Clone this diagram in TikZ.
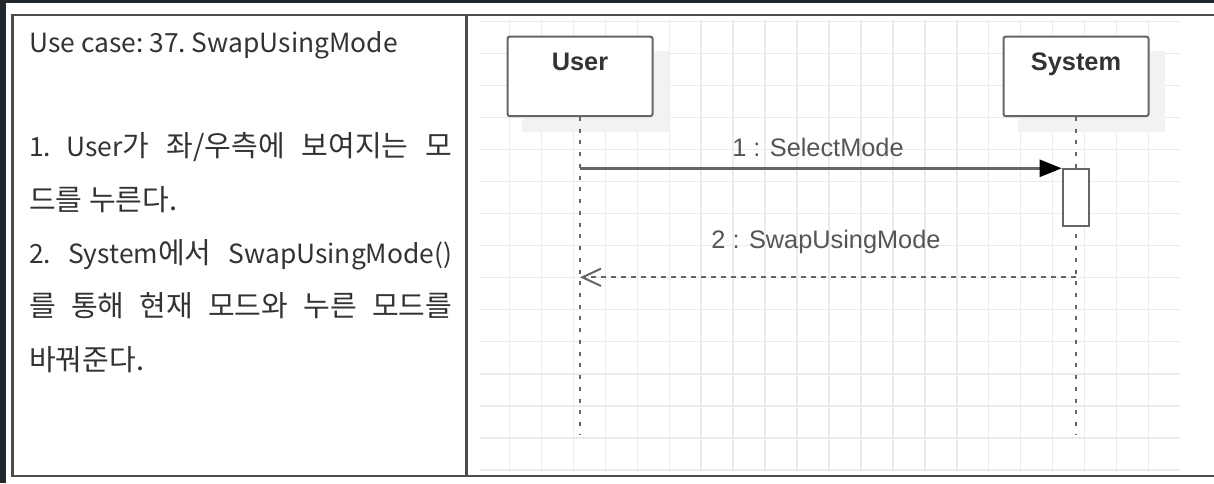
\documentclass[tikz,border=0pt]{standalone}
\usepackage{fontspec}
\newfontfamily\korfont{Noto Sans CJK KR}
\newfontfamily\hangulfont{Noto Sans CJK KR}[Scale=1.1]
\newfontfamily\umlfont{Liberation Sans}
\usetikzlibrary{arrows.meta}
\pgfdeclarelayer{background}
\pgfsetlayers{background,main}
\definecolor{pagedark}{HTML}{22272B}
\definecolor{rulecol}{HTML}{4D4D4D}
\definecolor{ink}{HTML}{333333}
\definecolor{umlgray}{HTML}{666666}
\definecolor{msgink}{HTML}{555555}
\definecolor{gridcol}{HTML}{EBEBEB}
\definecolor{shadowcol}{HTML}{F2F2F2}
\newcommand\hg[1]{{\hangulfont #1}}

\begin{document}
\begin{tikzpicture}[x=0.75pt,y=-0.75pt,
  casetext/.style={font=\korfont\frenchspacing\fontsize{19.8pt}{22pt}\selectfont, text=ink, anchor=base west, inner sep=0pt},
  lifebox/.style={draw=umlgray, line width=1.5pt, rounded corners=1.5pt, fill=white,
    minimum width=108.75pt, minimum height=59.5pt, inner sep=0pt},
  headtext/.style={font=\umlfont\bfseries\fontsize{19pt}{22pt}\selectfont, text=ink, anchor=base, inner sep=0pt},
  msgtext/.style={font=\umlfont\fontsize{19pt}{22pt}\selectfont, text=msgink, anchor=base, inner sep=0pt},
  lifeline/.style={draw=umlgray, line width=2pt, dash pattern=on 3pt off 5.8pt},
  activation/.style={draw=umlgray, line width=1.5pt, fill=white,
    minimum width=20pt, minimum height=42.3pt, inner sep=0pt},
  callmsg/.style={draw=umlgray, line width=2pt,
    -{Triangle[length=16.5pt,width=12.75pt,color=black,fill=black]}},
  returnmsg/.style={draw=umlgray, line width=1.5pt, dash pattern=on 3.75pt off 3.75pt,
    -{Straight Barb[length=14pt,width=13pt]}},
  gridline/.style={draw=gridcol, line width=1.1pt},
  tablerule/.style={draw=rulecol, line width=1.6pt},
]
\useasboundingbox (0,0) rectangle (1214,483);

% table frame and column divider
\draw[tablerule] (1220,15) -- (12.5,15) -- (12.5,476) -- (1220,476);
\draw[tablerule] (466.5,15) -- (466.5,476);

% use case description
\node[casetext] (title) at (29,52) {Use case: 37. SwapUsingMode};
\node[casetext] (s1a) at (29,156.7) {\makebox[317.25pt][s]{1. User\hg{가 좌/우측에 보여지는 모}}};
\node[casetext] (s1b) at (29,210) {\hg{드를 누른다.}};
\node[casetext] (s2a) at (29,263.3) {\makebox[317.25pt][s]{2. System\hg{에서} SwapUsingMode()}};
\node[casetext] (s2b) at (29,316.6) {\makebox[317.25pt][s]{\hg{를 통해 현재 모드와 누른 모드를}}};
\node[casetext] (s2c) at (29,370) {\hg{바꿔준다.}};

% sequence diagram: participants
\node[lifebox] (user) at (580,76.35) {};
\node[lifebox] (system) at (1076,76.35) {};
\node[headtext] (userlbl) at (580,70) {User};
\node[headtext] (systemlbl) at (1076,70) {System};

% lifelines
\coordinate (userend) at (580,435);
\coordinate (systemend) at (1076,435);
\draw[lifeline] (user.south) -- (userend);
\draw[lifeline] (system.south) -- (systemend);

% activation bar on System
\node[activation] (act) at (1076,197.5) {};

% messages
\draw[callmsg] (user.south |- act.north west) -- (act.north west);
\node[msgtext] (m1) at (818,156.7) {1 : SelectMode};
\coordinate (ret) at (1076,277.3);
\draw[returnmsg] (ret) -- (user.south |- ret);
\node[msgtext] (m2) at (826,248.3) {2 : SwapUsingMode};

% page, canvas grid and box shadows
\begin{pgfonlayer}{background}
  \fill[white] (0,0) rectangle (1214,483);
  \fill[pagedark] (0,0) rectangle (1214,3);
  \fill[pagedark] (0,0) rectangle (6,483);
  \begin{scope}
    \clip (480,20) rectangle (1180,472);
    \foreach \gx in {-1,...,20}
      \draw[gridline] ({509.5+31.95*\gx},20) -- ({509.5+31.95*\gx},472);
    \foreach \gy in {-1,...,13}
      \draw[gridline] (480,{53.3+32.05*\gy}) -- (1180,{53.3+32.05*\gy});
  \end{scope}
  \fill[shadowcol] ([shift={(15,15)}]user.north west) rectangle ([shift={(15,15)}]user.south east);
  \fill[shadowcol] ([shift={(15,15)}]system.north west) rectangle ([shift={(15,15)}]system.south east);
\end{pgfonlayer}
\end{tikzpicture}
\end{document}
